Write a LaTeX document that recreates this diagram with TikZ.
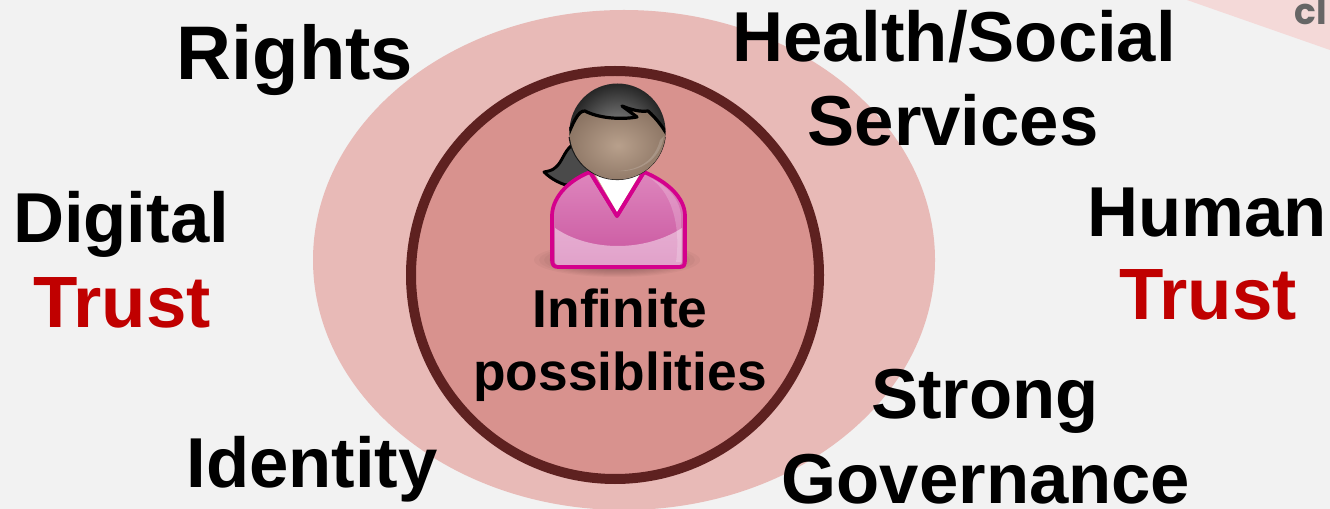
\documentclass[tikz,border=0pt]{standalone}
\usepackage{fontspec}
\setmainfont{Liberation Sans}
\newfontfamily\logofont{Poppins}
\definecolor{bgc}{HTML}{F2F2F2}
\definecolor{outerc}{HTML}{E8BAB7}
\definecolor{innerc}{HTML}{D8928E}
\definecolor{ringc}{HTML}{5E2120}
\definecolor{trustc}{HTML}{C00000}
\definecolor{cornerc}{HTML}{F4D9D8}
\definecolor{greyc}{HTML}{666666}
\definecolor{pinkline}{HTML}{D4008C}
\definecolor{hairc}{HTML}{4A4A4A}
\definecolor{facec}{HTML}{A58B78}
\definecolor{facelight}{HTML}{B8A08C}
\definecolor{facedark}{HTML}{8C7564}
\definecolor{bodytop}{HTML}{DE86BD}
\definecolor{bodylow}{HTML}{C9559F}
\newcommand{\bigfont}{\fontsize{53pt}{60pt}\selectfont\bfseries}
\newcommand{\midfont}{\fontsize{40pt}{46pt}\selectfont\bfseries}
\tikzset{
  x=0.75pt,y=-0.75pt,
  lab/.style={anchor=base,inner sep=0pt,font=\bigfont,text=black},
  trust/.style={lab,text=trustc,font=\fontsize{54.5pt}{60pt}\selectfont\bfseries},
  inlab/.style={anchor=base,inner sep=0pt,font=\midfont,text=black},
}
\begin{document}
\begin{tikzpicture}
\useasboundingbox (0,0) rectangle (1330,509);
\clip (0,0) rectangle (1330,509);
\fill[bgc] (0,0) rectangle (1330,509);
% corner
\fill[cornerc] (1187,0) -- (1330,50) -- (1330,0) -- cycle;
\node[anchor=base west,inner sep=0pt,font=\logofont\fontsize{27pt}{30pt}\selectfont\bfseries,text=greyc] (cl) at (1294,25) {cl};
% circles
\fill[outerc] (624,260) ellipse [x radius=311,y radius=250];
\draw[ringc,line width=7.5pt,fill=innerc] (615,275) circle [radius=204];
% shadow
\foreach \k in {1,...,8}{
  \fill[black,opacity=0.03] (617,260) ellipse [x radius={88-\k*5},y radius={18-\k}];
}
% ponytail
\fill[hairc,draw=black,line width=2.2pt,line join=round]
  (571,146) .. controls (564,152) and (562,162) .. (556,167)
  .. controls (552,171) and (548,171) .. (544,172)
  .. controls (552,180) and (562,184) .. (566,185)
  .. controls (578,184) and (590,178) .. (595,165) -- cycle;
% body
\path[draw=pinkline,line width=2.8pt,line join=round,top color=bodytop,bottom color=bodylow]
  (590,172) .. controls (565,182) and (552,200) .. (552,216)
  -- (552,260) .. controls (552,265) and (554,267) .. (558,267)
  -- (680,267) .. controls (684,267) and (685,265) .. (685,260)
  -- (685,216) .. controls (685,198) and (668,182) .. (644,172)
  -- (617,216) -- cycle;
% lower gloss
\fill[white,opacity=0.45]
  (555,228) .. controls (590,252) and (645,252) .. (682,228)
  -- (682,260) .. controls (682,264) and (681,265) .. (679,265)
  -- (558,265) .. controls (556,265) and (555,264) .. (555,260) -- cycle;
% shoulder highlight
\fill[white,opacity=0.2]
  (650,178) .. controls (668,186) and (680,200) .. (681,216) -- (681,262) -- (676,262)
  .. controls (680,235) and (676,195) .. (650,178) -- cycle;
% white collar
\fill[white,line join=round] (594,172) -- (617,212) -- (641,172) -- (618,180) -- cycle;
\draw[pinkline,line width=2.8pt,line join=round] (590,172) -- (617,216) -- (644,172);
% head: hair
\shade[inner color=black!45,outer color=black!85] (617.5,131.5) circle [radius=48];
\draw[black!90,line width=1.4pt] (569.5,137) arc [start angle=173,end angle=7,radius=48];
% head: face
\begin{scope}
  \clip (617.5,131.5) circle [radius=48];
  \shade[inner color=facelight,outer color=facedark]
    (566,140) .. controls (572,125) and (578,110) .. (585,111)
    .. controls (598,118) and (620,120) .. (637,117)
    -- (622,106) .. controls (632,110) and (640,112) .. (648,111)
    .. controls (656,118) and (664,128) .. (670,140)
    -- (670,185) -- (566,185) -- cycle;
  \draw[black,line width=2.4pt,line join=round]
    (566,140) .. controls (572,125) and (578,110) .. (585,111)
    .. controls (598,118) and (620,120) .. (637,117)
    -- (622,106) .. controls (632,110) and (640,112) .. (648,111)
    .. controls (656,118) and (664,128) .. (670,140);
\end{scope}
\fill[white,opacity=0.16] (660,140) .. controls (655,160) and (640,170) .. (618,171) .. controls (640,172) and (660,160) .. (664,136) -- cycle;
% labels
\node[lab,font=\fontsize{57pt}{60pt}\selectfont\bfseries] (rights) at (295,80) {Rights};
\node[lab] (health) at (954,62) {Health/Social};
\node[lab] (services) at (953,146) {Services};
\node[lab] (digital) at (121,243) {Digital};
\node[trust] (trustl) at (122,327) {Trust};
\node[lab] (human) at (1207,237) {Human};
\node[trust] (trustr) at (1208,320) {Trust};
\node[lab] (strong) at (985,418) {Strong};
\node[lab] (gov) at (986,503) {Governance};
\node[lab] (identity) at (312,487) {Identity};
\node[inlab] (inf) at (620,327) {Infinite};
\node[inlab] (poss) at (620,390) {possiblities};
\end{tikzpicture}
\end{document}
